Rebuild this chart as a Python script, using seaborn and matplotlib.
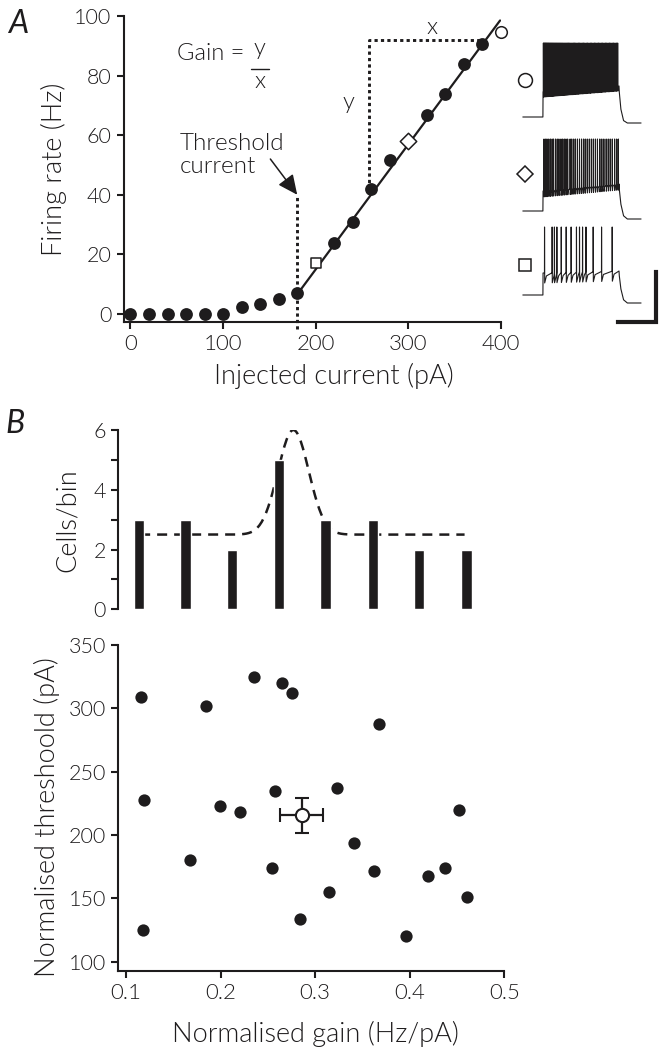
import numpy as np
import seaborn as sns
import matplotlib
matplotlib.use('Agg')
import matplotlib.pyplot as plt

# --- Panel A: firing rate vs injected current --------------------------------
current_pa = [0, 20, 40, 60, 80, 100, 120, 140, 160, 180, 220, 240, 260, 280, 320, 340, 360, 380]
rate_hz = [0, 0, 0, 0, 0, 0, 2.2, 3.2, 5.0, 6.9, 23.9, 30.9, 41.9, 51.7, 66.8, 73.7, 83.8, 90.5]
example_current = [200, 300, 400]
example_rate = [17, 58, 94.5]
example_marker = ['s', 'D', 'o']
fit_current = [181, 399]
fit_rate = [7, 98.5]
threshold_current = 180
threshold_marker_top = 40
gain_x = [258, 378]
gain_y = [42, 92]

# --- Inset voltage traces (ms from step onset, spike times)
square_spikes = [20, 120, 150, 182, 240, 305, 370, 440, 480, 520, 565, 660, 770, 910]
diamond_spikes = [13, 36, 53, 76, 98, 120, 138, 164, 187, 209, 236, 258, 280, 302, 324,
                  356, 378, 404, 427, 453, 480, 507, 533, 556, 582, 609, 636, 662, 689,
                  716, 747, 773, 800, 831, 858, 884, 911, 942, 969, 991]
circle_spikes = [5, 15, 25, 35, 45, 56, 67, 78, 90, 102, 114, 126, 138, 151, 164, 177,
                 190, 204, 218, 232, 246, 260, 275, 290, 305, 320, 335, 351, 367, 383,
                 399, 415, 431, 448, 465, 482, 499, 516, 533, 550, 568, 586, 604, 622,
                 640, 658, 676, 694, 712, 730, 748, 766, 784, 802, 820, 838, 856, 874,
                 892, 910, 928, 946, 964, 982]
scale_ms = 500
scale_mv = 50

# --- Panel B: histogram of gains + scatter -----------------------------------
bin_centers = [0.114, 0.163, 0.212, 0.262, 0.311, 0.361, 0.410, 0.460]
cells_per_bin = [3, 3, 2, 5, 3, 3, 2, 2]
fit_base, fit_amp, fit_mu, fit_sigma = 2.5, 3.5, 0.277, 0.0163
fit_range = [0.115, 0.458]

norm_gain = [0.1155, 0.119, 0.118, 0.1677, 0.1846, 0.1994, 0.2202, 0.2354, 0.2544,
             0.2572, 0.2653, 0.2755, 0.2844, 0.315, 0.3235, 0.3415, 0.3623, 0.3672,
             0.3961, 0.4194, 0.4374, 0.4525, 0.4606]
norm_threshold = [309, 228, 125, 180, 302, 223, 218, 324.5, 174, 235, 320, 312, 133.5,
                  155, 237, 194, 172, 288, 120.5, 168, 174, 220, 151]
mean_gain, sem_gain = 0.2858, 0.0225
mean_thr, sem_thr = 215.5, 14

ink = '#1e1c1d'

sns.set_theme(style='ticks')
plt.rcParams['font.family'] = ['Lato', 'DejaVu Sans']
plt.rcParams['font.weight'] = 300
plt.rcParams['axes.labelweight'] = 300
plt.rcParams['axes.linewidth'] = 1.5
plt.rcParams['text.color'] = ink
plt.rcParams['axes.labelcolor'] = ink
plt.rcParams['xtick.color'] = ink
plt.rcParams['ytick.color'] = ink

W, H = 665, 1063
fig = plt.figure(figsize=(W / 100, H / 100), dpi=100)


def px_axes(left, top, right, bottom):
    return fig.add_axes([left / W, 1 - bottom / H, (right - left) / W, (bottom - top) / H])


def style_axis(ax):
    sns.despine(ax=ax)
    for side in ('left', 'bottom'):
        ax.spines[side].set_color(ink)
        ax.spines[side].set_linewidth(1.5)
    ax.tick_params(direction='out', length=5, width=1.5, colors=ink, pad=4)


# ---------------------------------------------------------------- Panel A
axA = px_axes(124, 16, 501, 322)
sns.lineplot(x=fit_current, y=fit_rate, ax=axA, color=ink, lw=1.6)
sns.scatterplot(x=current_pa, y=rate_hz, ax=axA, color=ink, s=85, linewidth=0,
                clip_on=False, zorder=3)
for c, r, m in zip(example_current, example_rate, example_marker):
    sns.scatterplot(x=[c], y=[r], ax=axA, marker=m, s=70 if m != 's' else 60,
                    facecolor='white', edgecolor=ink, linewidth=1.1,
                    clip_on=False, zorder=4)

dotted = dict(color=ink, lw=2.1, ls=(0, (1.1, 1.1)), clip_on=False)
axA.plot([threshold_current, threshold_current], [-5, threshold_marker_top], **dotted)
axA.plot([gain_x[0], gain_x[0], gain_x[1]], [gain_y[0], gain_y[1], gain_y[1]], **dotted)

axA.set_xlim(-7, 400)
axA.set_ylim(-2.7, 100)
axA.set_xticks([0, 100, 200, 300, 400])
axA.set_yticks([0, 20, 40, 60, 80, 100])
style_axis(axA)
axA.tick_params(axis='x', labelsize=16)
axA.tick_params(axis='y', labelsize=15.5)
axA.set_xlabel('Injected current (pA)', fontsize=19.5)
axA.set_ylabel('Firing rate (Hz)', fontsize=19.5)
axA.xaxis.set_label_coords(0.557, -0.135)
axA.yaxis.set_label_coords(-0.15, 0.5)

axA.text(326, 96, 'x', fontsize=17, ha='center', va='center')
axA.text(235, 71, 'y', fontsize=17, ha='center', va='center')
axA.text(50, 87.5, 'Gain =', fontsize=17, ha='left', va='center')
axA.text(139.6, 89, 'y', fontsize=17, ha='center', va='center')
axA.plot([130, 149.5], [82.3, 82.3], color=ink, lw=1.0)
axA.text(139.6, 78, 'x', fontsize=17, ha='center', va='center')
axA.text(53, 53.4, 'Threshold\ncurrent', fontsize=17.5, ha='left', va='center',
         linespacing=1.1)
axA.annotate('', xy=(180, 40), xytext=(151, 52),
             arrowprops=dict(arrowstyle='-|>,head_length=0.6,head_width=0.28',
                             color=ink, lw=1.1, mutation_scale=20,
                             shrinkA=0, shrinkB=0))

# ---------------------------------------------------------------- inset traces
axT = px_axes(515, 0, 665, 340)
axT.set_xlim(-368, 1605)
axT.set_ylim(0, 340)
axT.axis('off')


def build_trace(spikes, plateau, drift, peak, ahp, recover, tail):
    t = [-265, -1, 1]
    v = [0, 0, plateau]
    for s in spikes:
        base = plateau + drift * s / 1000
        t += [s - 0.5, s + 0.5, s + 2.5, s + recover]
        v += [base, peak, base - ahp, base - ahp * 0.3]
    end = plateau + drift
    t += [1000, 1004, 1025, 1060, 1110, 1290]
    v += [end, end * 0.8, end * 0.25, tail * 0.6, tail, tail]
    return np.array(t), np.array(v)


traces = [
    (circle_spikes, 25, 6, 74, 5, 5, -6, 223, 'o', 10),
    (diamond_spikes, 20, 7, 72, 6, 8, -8, 129, 'D', 8),
    (square_spikes, 22, 2, 68, 10, 25, -8, 45, 's', 9),
]
for spikes, plat, drift, peak, ahp, rec, tail, offset, m, ms in traces:
    t, v = build_trace(spikes, plat, drift, peak, ahp, rec, tail)
    axT.plot(t, v + offset, color=ink, lw=0.8)
    axT.plot([-237], [offset + 37 if m != 's' else offset + 30], marker=m, ms=ms,
             mfc='white', mec=ink, mew=1.1, ls='none')

axT.plot([1487 - scale_ms, 1487, 1487], [18, 18, 18 + scale_mv], color=ink, lw=3,
         solid_joinstyle='miter', solid_capstyle='projecting')

# ---------------------------------------------------------------- Panel B hist
axH = px_axes(118.3, 430, 504.3, 609.3)
sns.barplot(x=bin_centers, y=cells_per_bin, ax=axH, native_scale=True, width=0.225,
            color=ink, saturation=1, errorbar=None, zorder=3)
fit_x = np.linspace(fit_range[0], fit_range[1], 300)
fit_y = fit_base + fit_amp * np.exp(-(fit_x - fit_mu) ** 2 / (2 * fit_sigma ** 2))
sns.lineplot(x=fit_x, y=fit_y, ax=axH, color=ink, lw=1.8, zorder=2)
axH.lines[-1].set_dashes((4, 2.8))
axH.set_xlim(0.0919, 0.5)
axH.set_ylim(0, 6)
axH.set_yticks(range(7))
axH.set_yticklabels(['0', '', '2', '', '4', '', '6'])
style_axis(axH)
axH.spines['bottom'].set_visible(False)
axH.tick_params(axis='x', bottom=False, labelbottom=False)
axH.tick_params(axis='y', labelsize=15.5)
axH.set_ylabel('Cells/bin', fontsize=19.5)
axH.yaxis.set_label_coords(-0.1, 0.5)

# ---------------------------------------------------------------- Panel B scatter
axS = px_axes(118.3, 645, 504.3, 970.7)
sns.scatterplot(x=norm_gain, y=norm_threshold, ax=axS, color=ink, s=78, linewidth=0,
                zorder=3)
axS.errorbar(mean_gain, mean_thr, xerr=sem_gain, yerr=sem_thr, fmt='o', ms=9.5,
             mfc='white', mec=ink, mew=1.5, ecolor=ink, elinewidth=1.6,
             capsize=4.7, capthick=1.6, zorder=4)
axS.set_xlim(0.0919, 0.5)
axS.set_ylim(93, 350)
axS.set_xticks([0.1, 0.2, 0.3, 0.4, 0.5])
axS.set_xticklabels(['0.1', '0.2', '0.3', '0.4', '0.5'])
axS.set_yticks([100, 150, 200, 250, 300, 350])
style_axis(axS)
axS.tick_params(axis='x', labelsize=16)
axS.tick_params(axis='y', labelsize=15.5)
axS.set_xlabel('Normalised gain (Hz/pA)', fontsize=19.5)
axS.set_ylabel('Normalised threshoold (pA)', fontsize=19.5)
axS.xaxis.set_label_coords(0.512, -0.155)
axS.yaxis.set_label_coords(-0.15, 0.472)

fig.text(8 / W, 1 - 33 / H, 'A', fontsize=23, style='italic', weight='normal',
         ha='left', va='baseline')
fig.text(5 / W, 1 - 433 / H, 'B', fontsize=23, style='italic', weight='normal',
         ha='left', va='baseline')

fig.savefig('out.png', dpi=100)
